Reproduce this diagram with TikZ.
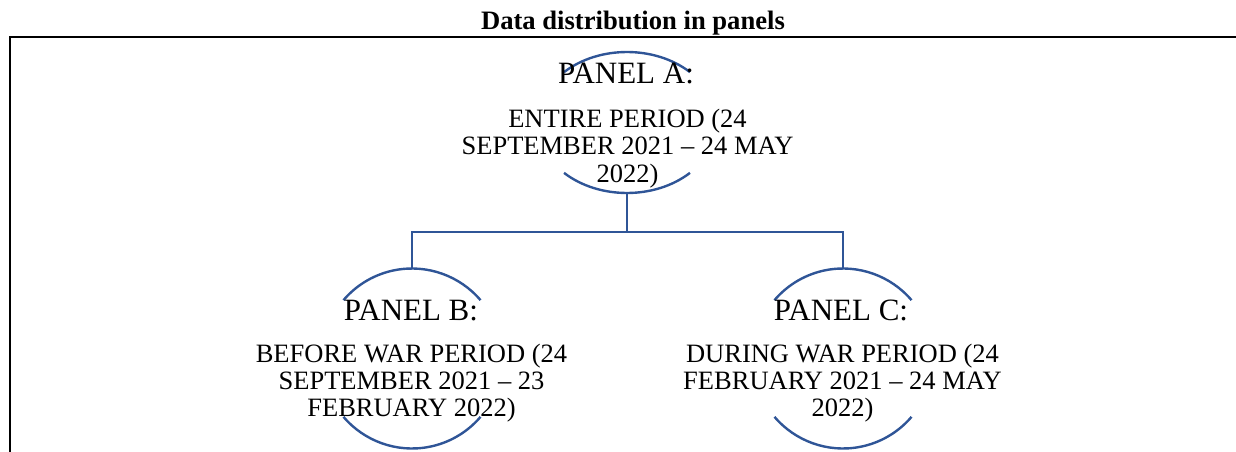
\documentclass[tikz,border=0pt]{standalone}
\usepackage{fontspec}
\setmainfont{Liberation Serif}
\usetikzlibrary{shapes.geometric}
\definecolor{panelblue}{RGB}{47,85,151}

\begin{document}
\begin{tikzpicture}[x=1pt,y=1pt,
    ring/.style={line width=2.4pt,draw=panelblue},
    link/.style={line width=2.4pt,draw=panelblue},
    hole/.style={ellipse,inner sep=0pt,outer sep=0pt},
    head/.style={inner sep=0pt,anchor=base,font=\fontsize{31}{31}\selectfont},
    body/.style={inner sep=0pt,anchor=north,align=center,font=\fontsize{26.5}{27.3}\selectfont}]

    \useasboundingbox (0,0) rectangle (1236,-452);

    % name, centre, x radius, y radius, angle where the ring is cut
    \def\panelring#1#2#3#4#5{
      \node[hole,minimum width=2*#3,minimum height=2*#4] (#1) at (#2) {};
      \draw[ring] ([shift={(#5:#3 and #4)}]#1.center)
        arc[start angle=#5,end angle=180-#5,x radius=#3,y radius=#4];
      \draw[ring] ([shift={(180+#5:#3 and #4)}]#1.center)
        arc[start angle=180+#5,end angle=360-#5,x radius=#3,y radius=#4];
    }

    \node[inner sep=0pt,anchor=base,font=\bfseries\fontsize{26.6}{26.6}\selectfont] (title) at (633,-30) {Data distribution in panels};
    \draw[line width=2.2pt] (10,-452) -- (10,-37) -- (1236,-37);

    \panelring{A}{627,-122.5}{90}{70.5}{45.6}
    \panelring{B}{412,-358.5}{90}{90}{40.4}
    \panelring{C}{843,-358.5}{90}{90}{40.4}

    \node[head] (A head) at (626,-84) {PANEL A:};
    \node[body] (A body) at (627.5,-109) {ENTIRE PERIOD (24\\SEPTEMBER 2021 -- 24 MAY\\2022)};
    \node[head] (B head) at (411,-320) {PANEL B:};
    \node[body] (B body) at (411.5,-343.7) {BEFORE WAR PERIOD (24\\SEPTEMBER 2021 -- 23\\FEBRUARY 2022)};
    \node[head] (C head) at (841,-320) {PANEL C:};
    \node[body] (C body) at (842.5,-343.7) {DURING WAR PERIOD (24\\FEBRUARY 2021 -- 24 MAY\\2022)};

    \coordinate (fork) at (627,-232);
    \draw[link] (A.south) -- (fork) -| (B.north);
    \draw[link] (fork) -| (C.north);

  \end{tikzpicture}
\end{document}
